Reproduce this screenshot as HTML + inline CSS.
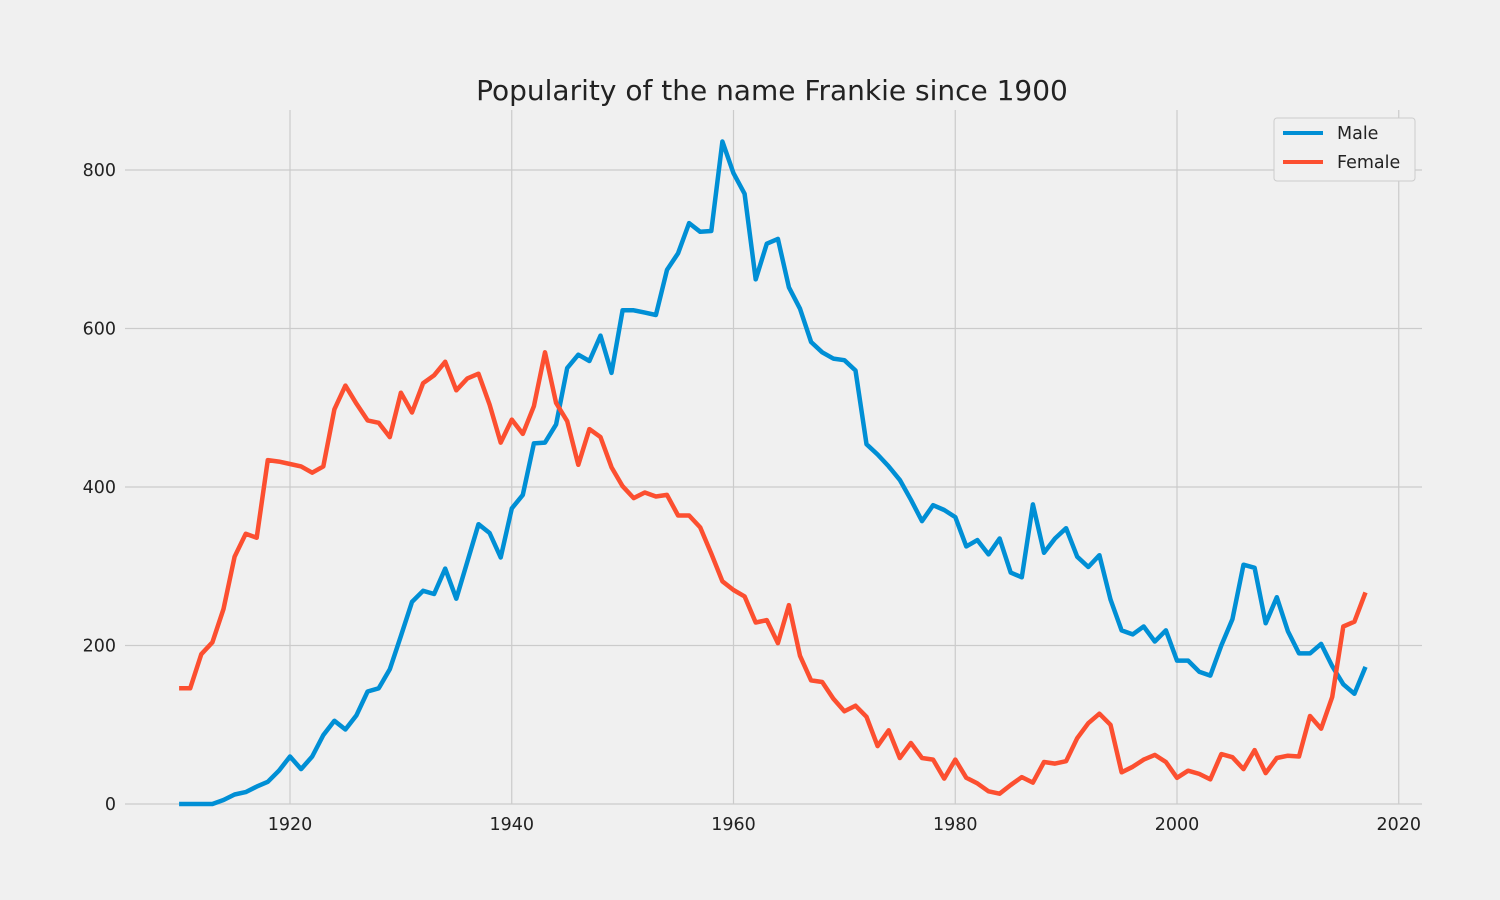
<!DOCTYPE html>
<html><head><meta charset="utf-8"><style>
html,body{margin:0;padding:0;background:#f0f0f0;}
svg{display:block;font-family:"DejaVu Sans","Liberation Sans",sans-serif;}
</style></head><body>
<svg id="chart" width="1500" height="900">
<rect width="1500" height="900" fill="#f0f0f0"/>
<g id="grid"></g><g id="ticks"></g><g id="lines"></g>
<text x="772" y="100" text-anchor="middle" font-size="28" fill="#222">Popularity of the name Frankie since 1900</text>
<g>
<rect x="1274" y="118" width="141" height="63" fill="#f0f0f0" stroke="#cccccc" stroke-width="1" rx="3"/>
<line x1="1283" y1="133" x2="1323" y2="133" stroke="#008fd5" stroke-width="4"/>
<text x="1337" y="139" font-size="17.5" fill="#222">Male</text>
<line x1="1283" y1="162" x2="1323" y2="162" stroke="#fc4f30" stroke-width="4"/>
<text x="1337" y="168" font-size="17.5" fill="#222">Female</text>
</g>
</svg>
<script>
const startYear = 1910;
const male = [0,0,0,0,5,12,15,22,28,42,60,44,60,87,105,94,112,142,146,170,212,255,269,265,297,259,306,353,342,311,373,390,455,456,479,550,567,559,591,544,623,623,620,617,674,695,733,722,723,836,796,770,662,707,713,652,625,583,570,562,560,547,454,441,426,409,384,357,377,371,362,325,333,315,335,292,286,378,317,335,348,312,299,314,258,219,214,224,205,219,181,181,167,162,200,233,302,298,228,261,218,190,190,202,174,151,139,173];
const female = [146,146,189,204,246,312,341,336,434,432,429,426,418,426,498,528,505,484,481,463,519,494,531,541,558,522,537,543,504,456,485,467,502,570,506,483,428,473,463,425,401,386,393,388,390,364,364,349,316,281,270,262,229,232,203,251,187,156,154,133,117,124,110,73,93,58,77,58,56,32,56,33,26,16,13,24,34,27,53,51,54,83,102,114,100,40,47,56,62,53,33,42,38,31,63,59,44,68,39,58,61,60,111,95,135,224,230,267];
const xTicks = [1920,1940,1960,1980,2000,2020];
const yTicks = [0,200,400,600,800];
const NS="http://www.w3.org/2000/svg";
const xs = y => 290 + (y-1920)*(1177-290)/80;
const ys = v => 804 - v*(804-170)/800;
function mk(tag,attrs,parent){const e=document.createElementNS(NS,tag);for(const k in attrs)e.setAttribute(k,attrs[k]);parent.appendChild(e);return e;}
const grid=document.getElementById('grid'),ticks=document.getElementById('ticks'),lines=document.getElementById('lines');
xTicks.forEach(t=>{
  const l=mk('line',{x1:xs(t),x2:xs(t),y1:110,y2:804,stroke:'#cbcbcb','stroke-width':1.2},grid);
  
  
  const tx=mk('text',{x:xs(t),y:830,'text-anchor':'middle','font-size':17.5,fill:'#222'},ticks);
  tx.textContent=t;
  
  
});
yTicks.forEach(t=>{
  const l=mk('line',{x1:125,x2:1422,y1:ys(t),y2:ys(t),stroke:'#cbcbcb','stroke-width':1.2},grid);
  
  
  const tx=mk('text',{x:116,y:ys(t)+6,'text-anchor':'end','font-size':17.5,fill:'#222'},ticks);
  tx.textContent=t;
  
  
});
function series(arr,color,name){
  const d=arr.map((v,i)=>(i?'L':'M')+xs(startYear+i).toFixed(1)+' '+ys(v).toFixed(1)).join(' ');
  const p=mk('path',{d:d,fill:'none',stroke:color,'stroke-width':4.5,'stroke-linejoin':'round'},lines);
  
  
}
series(male,'#008fd5','male-line');
series(female,'#fc4f30','female-line');
</script>
</body></html>
